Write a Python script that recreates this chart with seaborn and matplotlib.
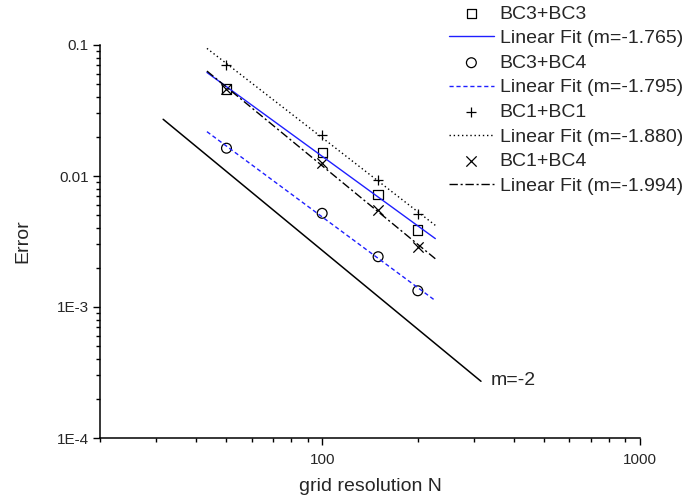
import numpy as np
import pandas as pd
import matplotlib
matplotlib.use("Agg")
import matplotlib.pyplot as plt
import matplotlib.ticker as mticker
import seaborn as sns

# grid resolutions used in the convergence study
grid_n = [50, 100, 150, 200]

# errors
err_bc3_bc3 = [0.0462, 0.0151, 0.00724, 0.00387]
err_bc3_bc4 = [0.0163, 0.00519, 0.00242, 0.00133]
err_bc1_bc1 = [0.0704, 0.0206, 0.0093, 0.00512]
err_bc1_bc4 = [0.0462, 0.0126, 0.0055, 0.00286]

series_names = ["BC3+BC3", "BC3+BC4", "BC1+BC1", "BC1+BC4"]
fit_slopes = [-1.765, -1.795, -1.880, -1.994]
fit_n_range = [43.4, 227]

# reference slope line (m=-2)
ref_n = [31.6, 316]
ref_err = [0.0271, 2.71e-4]

x_ticks = [100, 1000]
x_tick_labels = ["100", "1000"]
y_ticks = [1e-4, 1e-3, 1e-2, 1e-1]
y_tick_labels = ["1E-4", "1E-3", "0.01", "0.1"]

sns.set_style("ticks")
plt.rcParams["font.family"] = ["Liberation Sans", "DejaVu Sans"]

fig = plt.figure(figsize=(6.82, 4.99), dpi=100)
ax = fig.add_axes([100 / 682, 1 - 438 / 499, 540 / 682, 393 / 499])

marker_kw = [
    dict(marker="s", s=45, facecolors="none", edgecolors="black", linewidths=0.9),
    dict(marker="o", s=50, facecolors="none", edgecolors="black", linewidths=0.9),
    dict(marker="+", s=60, color="black", linewidths=0.9),
    dict(marker="x", s=55, color="black", linewidths=0.9),
]
line_kw = [
    dict(color="#1f1fff", linestyle="-", linewidth=1.0),
    dict(color="#1f1fff", linestyle=(0, (3, 2)), linewidth=1.0),
    dict(color="black", linestyle=(0, (1, 2)), linewidth=1.0),
    dict(color="black", linestyle=(0, (6, 2, 1.5, 2)), linewidth=1.0),
]

all_err = [err_bc3_bc3, err_bc3_bc4, err_bc1_bc1, err_bc1_bc4]
log_n = np.log10(grid_n)
for name, err, m, mk, lk in zip(series_names, all_err, fit_slopes, marker_kw, line_kw):
    df = pd.DataFrame({"N": grid_n, "err": err})
    sns.scatterplot(data=df, x="N", y="err", ax=ax, label=name, **mk)
    # intercept for the given slope (least squares in log-log)
    b = np.mean(np.log10(err) - m * log_n)
    fit = pd.DataFrame({"N": fit_n_range,
                        "err": 10 ** (b + m * np.log10(fit_n_range))})
    sns.lineplot(data=fit, x="N", y="err", ax=ax,
                 label=f"Linear Fit (m={m:.3f})", **lk)

ref = pd.DataFrame({"N": ref_n, "err": ref_err})
sns.lineplot(data=ref, x="N", y="err", ax=ax, color="black", linewidth=1.1)
ax.text(338, 2.77e-4, "m=-2", fontsize=14, va="center", ha="left")

ax.set_xscale("log")
ax.set_yscale("log")
ax.set_xlim(20, 1000)
ax.set_ylim(1e-4, 0.1)
ax.xaxis.set_major_locator(mticker.FixedLocator(x_ticks))
ax.xaxis.set_major_formatter(mticker.FixedFormatter(x_tick_labels))
ax.yaxis.set_major_locator(mticker.FixedLocator(y_ticks))
ax.yaxis.set_major_formatter(mticker.FixedFormatter(y_tick_labels))
ax.xaxis.set_minor_locator(mticker.LogLocator(base=10, subs=np.arange(2, 10)))
ax.yaxis.set_minor_locator(mticker.LogLocator(base=10, subs=np.arange(2, 10)))
ax.xaxis.set_minor_formatter(mticker.NullFormatter())
ax.yaxis.set_minor_formatter(mticker.NullFormatter())
ax.tick_params(which="major", direction="out", length=5, width=1.0,
               labelsize=11, color="black", pad=3)
ax.tick_params(axis="x", which="major", pad=6)
ax.tick_params(which="minor", direction="out", length=3, width=1.0, color="black")

ax.set_xlabel("grid resolution N", fontsize=14, labelpad=8)
ax.set_ylabel("Error", fontsize=14, labelpad=18)
sns.despine(ax=ax)
for sp in ["left", "bottom"]:
    ax.spines[sp].set_linewidth(1.1)
    ax.spines[sp].set_color("black")

handles, labels = ax.get_legend_handles_labels()
ax.get_legend().remove()
fig.legend(handles, labels, loc="upper left", bbox_to_anchor=(449 / 682, 0.99),
           frameon=False, fontsize=14, scatterpoints=1, handlelength=2.3,
           handletextpad=0.3, labelspacing=0.36, borderpad=0, borderaxespad=0)

fig.savefig("out.png", dpi=100)
